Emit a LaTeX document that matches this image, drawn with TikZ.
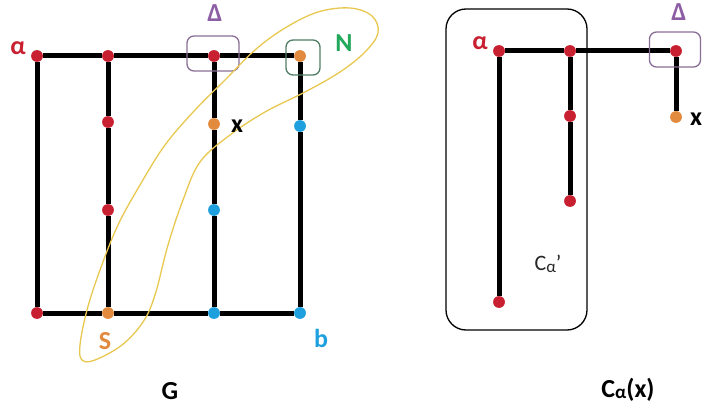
\documentclass[tikz,border=0pt]{standalone}
\usepackage{fontspec}
\setmainfont{Carlito}
\definecolor{dred}{RGB}{200,32,48}
\definecolor{dorange}{RGB}{226,138,62}
\definecolor{dblue}{RGB}{30,160,222}
\definecolor{dpurple}{RGB}{140,94,164}
\definecolor{dpurplebox}{RGB}{138,110,150}
\definecolor{dgreen}{RGB}{34,168,90}
\definecolor{dgreenbox}{RGB}{80,125,100}
\definecolor{dyellow}{RGB}{232,200,80}
\tikzset{
  dot/.style={circle,inner sep=0pt,minimum size=11.5pt,draw=none},
  rd/.style={dot,fill=dred},
  od/.style={dot,fill=dorange},
  bd/.style={dot,fill=dblue},
  edge/.style={line width=5pt,black},
  lbl/.style={font=\fontsize{26}{28}\selectfont\bfseries,inner sep=0pt},
  tagbox/.style={rounded corners=7pt,line width=1.3pt},
}
\begin{document}
\begin{tikzpicture}[x=1pt,y=-1pt]
\useasboundingbox (0,0) rectangle (702,412);
% ---------- left graph G ----------
\node[rd] (a1) at (37,56) {};
\node[rd] (a2) at (108,56) {};
\node[rd] (a3) at (214,56) {};
\node[od] (a4) at (300,56) {};
\node[rd] (b2) at (108,122) {};
\node[od] (b3) at (214,124) {};
\node[bd] (b4) at (300,126) {};
\node[rd] (c2) at (108,210) {};
\node[bd] (c3) at (214,210) {};
\node[rd] (d1) at (37,313) {};
\node[od] (d2) at (108,313) {};
\node[bd] (d3) at (214,313) {};
\node[bd] (d4) at (300,313) {};
\draw[edge] (a1) -- (a2);
\draw[edge] (a2) -- (a3);
\draw[edge] (a3) -- (a4);
\draw[edge] (a1) -- (d1);
\draw[edge] (a2) -- (b2);
\draw[edge] (b2) -- (c2);
\draw[edge] (c2) -- (d2);
\draw[edge] (a3) -- (b3);
\draw[edge] (b3) -- (c3);
\draw[edge] (c3) -- (d3);
\draw[edge] (a4) -- (b4);
\draw[edge] (b4) -- (d4);
\draw[edge] (d1) -- (d2);
\draw[edge] (d2) -- (d3);
\draw[edge] (d3) -- (d4);
% redraw dots on top
\foreach \n/\s in {a1/rd,a2/rd,a3/rd,a4/od,b2/rd,b3/od,b4/bd,c2/rd,c3/bd,d1/rd,d2/od,d3/bd,d4/bd}
  \node[\s] at (\n.center) {};
% boxes
\node[draw=dpurplebox,tagbox,minimum width=52pt,minimum height=35pt] (delta1) at (213,53.5) {};
\node[draw=dgreenbox,tagbox,minimum width=34pt,minimum height=35pt] (nbox) at (303,57.5) {};
% yellow loop
\draw[dyellow,line width=1.3pt] plot[smooth cycle,tension=0.6] coordinates {
 (350,8) (372,16) (378,33) (365,52) (340,72) (305,92) (265,112) (230,135)
 (200,162) (183,200) (168,245) (155,295) (143,322) (122,345) (95,360)
 (82,360) (80,345) (87,310) (100,270) (118,225) (140,185) (165,145)
 (195,110) (225,80) (255,50) (285,28) (318,12)};
% labels
\node[lbl,text=dred] (lalpha) at (18,48) {α};
\node[lbl,text=dpurple] (ldelta) at (215,13) {Δ};
\node[lbl,text=dgreen] (lN) at (344,43) {N};
\node[lbl,text=black] (lx) at (237,126) {x};
\node[lbl,text=dorange] (lS) at (105,341) {S};
\node[lbl,text=dblue] (lb) at (321,338) {b};
\node[lbl,text=black] (lG) at (170,391) {G};
% ---------- right graph C_alpha(x) ----------
\node[draw=black,rounded corners=20pt,line width=1.3pt,minimum width=141pt,minimum height=321pt] (cbox) at (516.5,169.5) {};
\node[rd] (r1) at (499,51) {};
\node[rd] (r2) at (570,51) {};
\node[rd] (r3) at (676,51) {};
\node[rd] (s1) at (499,302) {};
\node[rd] (s2) at (570,116) {};
\node[rd] (s3) at (570,201) {};
\node[od] (t3) at (676,117) {};
\draw[edge] (r1) -- (r2);
\draw[edge] (r2) -- (r3);
\draw[edge] (r1) -- (s1);
\draw[edge] (r2) -- (s2);
\draw[edge] (s2) -- (s3);
\draw[edge] (r3) -- (t3);
\foreach \n/\s in {r1/rd,r2/rd,r3/rd,s1/rd,s2/rd,s3/rd,t3/od}
  \node[\s] at (\n.center) {};
\node[draw=dpurplebox,tagbox,minimum width=51pt,minimum height=35pt] (delta2) at (675,49.5) {};
\node[lbl,text=dred] (ralpha) at (480,43) {α};
\node[lbl,text=dpurple] (rdelta) at (679,12) {Δ};
\node[lbl,text=black,anchor=west] (rx) at (690,119) {x};
\node[inner sep=0pt,text=black!85,font=\fontsize{22}{24}\selectfont] (cprime) at (548,264) {C\raisebox{-2pt}{\fontsize{17}{18}\selectfont α}’};
\node[lbl,text=black] (cax) at (628,390) {C\raisebox{-1pt}{\fontsize{19}{20}\selectfont α}(x)};
\end{tikzpicture}
\end{document}
